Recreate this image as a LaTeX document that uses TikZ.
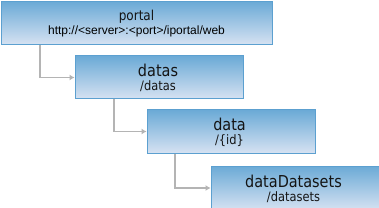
\documentclass[tikz,border=0pt]{standalone}
\usepackage{fontspec}
\setmainfont{DejaVu Sans}
\newfontfamily\tfont[FakeStretch=0.88]{DejaVu Sans}
\newfontfamily\afont{Liberation Sans}
\usetikzlibrary{arrows.meta}
\definecolor{boxtop}{RGB}{107,170,214}
\definecolor{boxbot}{RGB}{214,226,242}
\definecolor{boxline}{RGB}{92,160,208}
\definecolor{conngray}{RGB}{180,180,180}
\definecolor{txt}{RGB}{20,20,20}
\begin{document}
\begin{tikzpicture}[x=1pt,y=-1pt,
  box/.style={draw=boxline, line width=1pt, top color=boxtop, bottom color=boxbot,
    anchor=north west, inner sep=0pt, minimum width=168pt, minimum height=43pt},
  ttl/.style={anchor=base, inner sep=0pt, text=txt, font=\tfont\fontsize{16.4}{18}\selectfont},
  sub/.style={anchor=base, inner sep=0pt, text=txt, font=\tfont\fontsize{13}{15}\selectfont},
  conn/.style={draw=conngray, line width=1.8pt, -{Latex[length=5pt,width=6pt]}}]
\useasboundingbox[fill=white] (0,0) rectangle (379,208);
\node[box, minimum width=271pt] (b1) at (0.5,1) {};
\node[box] (b2) at (74.5,55.5) {};
\node[box] (b3) at (146.5,109.5) {};
\node[box, minimum height=44pt] (b4) at (210.5,165.5) {};
% texts
\node[ttl, font=\tfont\fontsize{13.7}{15}\selectfont] (t1) at ([yshift=-20pt]b1.north) {portal};
\node[anchor=base, inner sep=0pt, text=black, font=\afont\fontsize{12}{14}\selectfont] (s1) at ([yshift=-34pt]b1.north) {http://<server>:<port>/iportal/web};
\node[ttl] (t2) at ([yshift=-21.5pt,xshift=-1pt]b2.north) {datas};
\node[sub] (s2) at ([yshift=-35.5pt,xshift=-1pt]b2.north) {/datas};
\node[ttl] (t3) at ([yshift=-21pt,xshift=-1.5pt]b3.north) {data};
\node[sub] (s3) at ([yshift=-35pt,xshift=-1.5pt]b3.north) {/\{id\}};
\node[ttl] (t4) at ([yshift=-21.5pt,xshift=-1.5pt]b4.north) {dataDatasets};
\node[sub] (s4) at ([yshift=-35.5pt,xshift=-1.5pt]b4.north) {/datasets};
% connectors
\draw[conn] ([xshift=39.5pt]b1.south west) |- (b2.west);
\draw[conn] ([xshift=39.5pt]b2.south west) |- (b3.west);
\draw[conn] ([xshift=28.5pt]b3.south west) |- (b4.west);
\end{tikzpicture}
\end{document}
